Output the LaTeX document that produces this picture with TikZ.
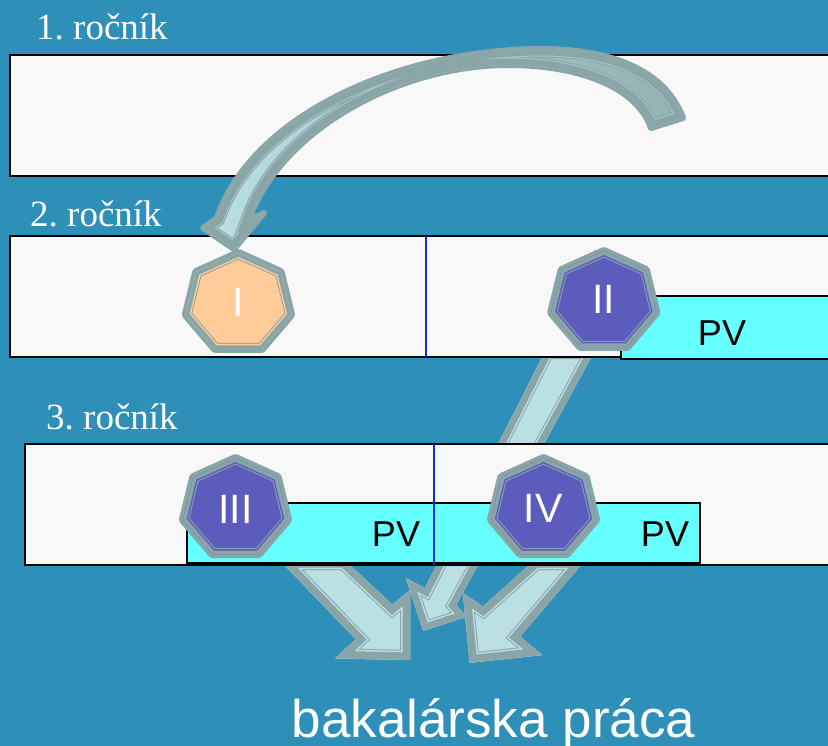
\documentclass[tikz,border=0pt]{standalone}
\usepackage{fontspec}
\setmainfont{Liberation Serif}
\setsansfont{Liberation Sans}
\definecolor{bgblue}{HTML}{2E8FB8}
\definecolor{band}{HTML}{8AA5A8}
\definecolor{lightarrow}{HTML}{BAE0E3}
\definecolor{panel}{HTML}{F8F8F8}
\definecolor{cyanbox}{HTML}{66FFFF}
\definecolor{purple}{HTML}{5C5CBD}
\definecolor{peach}{HTML}{FFCC99}
\definecolor{divider}{HTML}{0A2FCF}
\definecolor{curvemid}{HTML}{A0BFC1}
\definecolor{curvetail}{HTML}{94B0B2}
\definecolor{curvestripe}{HTML}{A6C8CA}
\newcommand{\banded}[7]{%
  \draw[band,line join=round,line width=#4pt] #1;
  \path[#2] #1;
  \begin{scope}
    \clip #1;
    \draw[band,line width=#7pt] #1;
    \draw[#3,line width=#6pt] #1;
    \draw[band,line width=#5pt] #1;
  \end{scope}
}
\newcommand{\heptpath}[3]{({#1+#3*cos(90)},{#2-50.5*sin(90)}) -- ({#1+#3*cos(141.43)},{#2-50.5*sin(141.43)}) -- ({#1+#3*cos(192.86)},{#2-50.5*sin(192.86)}) -- ({#1+#3*cos(244.29)},{#2-50.5*sin(244.29)}) -- ({#1+#3*cos(295.71)},{#2-50.5*sin(295.71)}) -- ({#1+#3*cos(347.14)},{#2-50.5*sin(347.14)}) -- ({#1+#3*cos(38.57)},{#2-50.5*sin(38.57)}) -- cycle}
\newcommand{\hept}[3]{\banded{\heptpath{#1}{#2}{54}}{fill=#3}{#3}{8}{7}{10}{12}}
\tikzset{
  panelbox/.style={draw=black,fill=panel,line width=1.5pt},
  pvbox/.style={draw=black,fill=cyanbox,line width=1.5pt},
  dividerline/.style={draw=divider,line width=1.4pt},
  yearlabel/.style={anchor=base west,text=white,inner sep=0pt,font=\frenchspacing\fontsize{37}{37}\selectfont},
  numlabel/.style={text=white,inner sep=0pt,font=\sffamily\fontsize{41}{41}\selectfont},
  pvlabel/.style={text=black,anchor=base,inner sep=0pt,font=\sffamily\fontsize{36}{36}\selectfont},
}
\begin{document}
\begin{tikzpicture}[x=1pt,y=-1pt]
\useasboundingbox (0,0) rectangle (828,746);
\clip (0,0) rectangle (828,746);
\fill[bgblue] (0,0) rectangle (828,746);
% lower arrows, behind the panels
\banded{(279.6,560) -- (356,639.3) -- (335.4,658.3) -- (410.2,660) -- (410.2,590) -- (392.3,605) -- (344.6,560) -- cycle}{fill=lightarrow}{lightarrow}{0.5}{15}{18}{20}
\banded{(546,350) -- (425,588.3) -- (406,578.3) -- (423.3,630.7) -- (466.4,616.7) -- (456,605) -- (595,350) -- cycle}{fill=lightarrow}{lightarrow}{0.5}{13}{16}{18}
\banded{(535,560) -- (483,606.7) -- (463,593.3) -- (469.8,662.7) -- (542,655) -- (519.8,636.7) -- (585,560) -- cycle}{fill=lightarrow}{lightarrow}{0.5}{15}{18}{20}
% panels
\draw[panelbox] (10,55) rectangle (840,176);
\draw[panelbox] (10,236) rectangle (840,357);
\draw[panelbox] (25,444) rectangle (840,565);
\draw[pvbox] (621,296) rectangle (840,359);
\draw[pvbox] (187,503) rectangle (700,563);
\draw[dividerline] (426,236) -- (426,357);
\draw[dividerline] (434,444) -- (434,565);
% curved arrow
\banded{(683,118) .. controls (664,67) and (605,49) .. (542,49) .. controls (400,49) and (252,115) .. (217,218) -- (203,228) -- (234,249) -- (264,213) -- (249,220) .. controls (280,130) and (400,65) .. (508,65) .. controls (575,65) and (636,85) .. (651,128) -- cycle}{left color=lightarrow,middle color=curvemid,right color=curvetail}{curvestripe}{6}{13}{15}{17}
% heptagons
\hept{238.4}{303.5}{peach}
\hept{603.8}{301.5}{purple}
\hept{235.5}{508.5}{purple}
\hept{543.5}{508.5}{purple}
% labels
\node[yearlabel] (y1) at (36,40) {1. ročník};
\node[yearlabel] (y2) at (30,227) {2. ročník};
\node[yearlabel] (y3) at (46,429) {3. ročník};
\node[numlabel] (nI) at (238,302) {I};
\node[numlabel] (nII) at (603.5,299) {II};
\node[numlabel] (nIII) at (235.5,509) {III};
\node[numlabel] (nIV) at (543,508) {IV};
\node[pvlabel] (pv1) at (722,345) {PV};
\node[pvlabel] (pv2) at (396,546) {PV};
\node[pvlabel] (pv3) at (665,546) {PV};
\node[anchor=base,text=white,inner sep=0pt,font=\sffamily\fontsize{53}{53}\selectfont] (bp) at (493.5,737) {bakalárska práca};
\end{tikzpicture}
\end{document}
